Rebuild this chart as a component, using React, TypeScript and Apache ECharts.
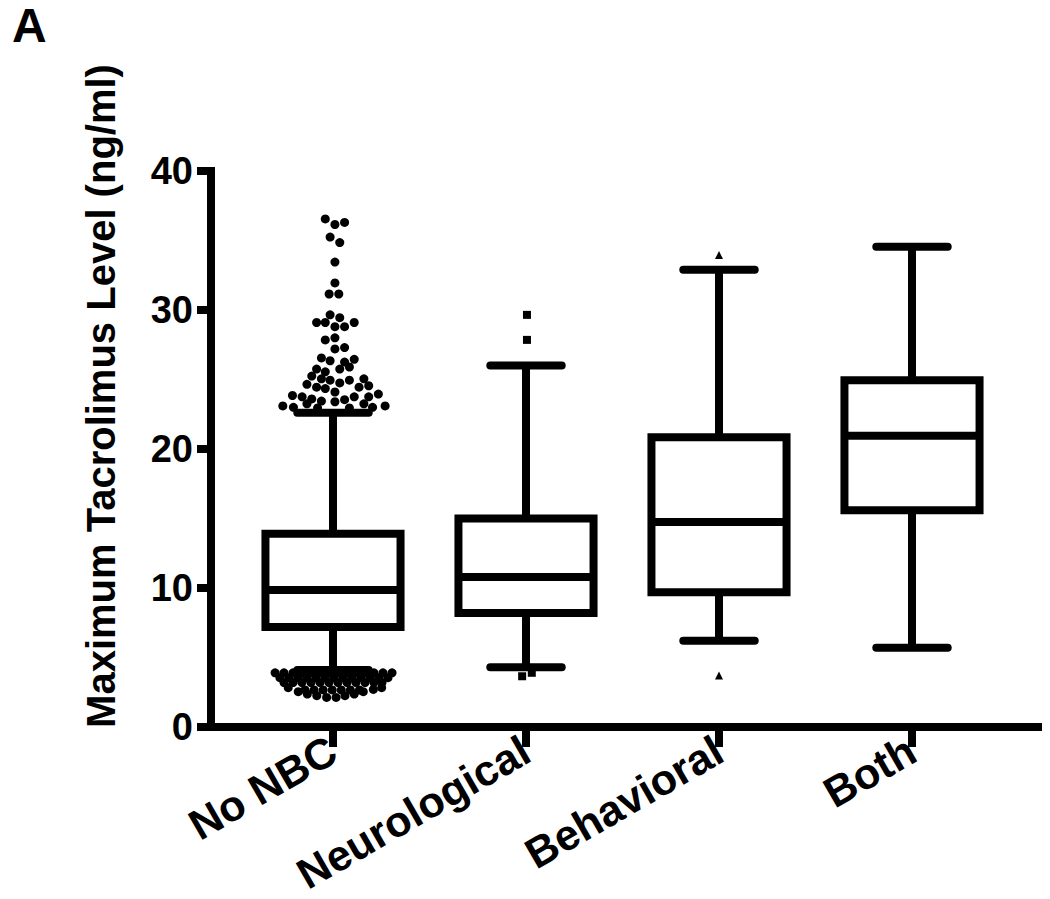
import React, { useEffect, useRef } from "react";
import * as echarts from "echarts";

const categories = ["No NBC", "Neurological", "Behavioral", "Both"];
const whiskerLow = [4.1, 4.3, 6.2, 5.7];
const q1 = [7.2, 8.2, 9.7, 15.6];
const median = [9.85, 10.8, 14.75, 20.95];
const q3 = [13.9, 15.0, 20.85, 24.95];
const whiskerHigh = [22.6, 26.0, 32.9, 34.55];
const yTickLabels = ["0", "10", "20", "30", "40"];

// outliers as [horizontal offset within category (category units), value]
const noNbcOutliersHigh = [
  [-0.04, 36.55], [0.06, 36.3], [0.01, 36.15], [-0.015, 35.25], [0.035, 34.85],
  [0.01, 33.45], [0.01, 31.95], [-0.02, 31.15], [0.03, 31.15],
  [-0.015, 29.65], [0.035, 29.45], [-0.085, 29.1], [-0.04, 29.1], [0.11, 29.1],
  [0.01, 28.8], [0.06, 28.8], [0.01, 28.0], [-0.04, 27.85], [0.06, 27.3], [0.01, 27.2],
  [-0.06, 26.55], [0.11, 26.45], [-0.015, 26.35], [0.06, 26.25],
  [0.085, 25.9], [-0.085, 25.75], [0.035, 25.75], [-0.04, 25.55],
  [-0.11, 25.25], [0.16, 25.05], [-0.06, 25.05], [-0.015, 24.95], [0.085, 24.95],
  [0.035, 24.75], [-0.135, 24.65], [0.185, 24.55], [-0.085, 24.45], [0.135, 24.45],
  [-0.04, 24.35], [0.01, 24.1], [0.235, 23.95], [-0.21, 23.85], [-0.16, 23.75],
  [0.11, 23.75], [0.185, 23.75], [-0.11, 23.6], [0.06, 23.55], [-0.06, 23.45],
  [0.01, 23.4], [-0.135, 23.25], [0.16, 23.25], [-0.26, 23.1], [0.27, 23.1],
  [-0.205, 23.0], [0.205, 23.0], [-0.08, 22.95], [0.085, 22.95],
];
const noNbcOutliersLow = [
  [-0.3, 3.9], [-0.254, 3.9], [-0.207, 3.9], [-0.161, 3.9], [-0.114, 3.9], [-0.067, 3.9], [-0.021, 3.9],
  [0.026, 3.9], [0.073, 3.9], [0.119, 3.9], [0.166, 3.9], [0.212, 3.9], [0.259, 3.9], [0.306, 3.9],
  [-0.275, 3.55], [-0.228, 3.55], [-0.181, 3.55], [-0.135, 3.55], [-0.088, 3.55], [-0.041, 3.55], [0.005, 3.55],
  [0.052, 3.55], [0.098, 3.55], [0.145, 3.55], [0.192, 3.55], [0.238, 3.55], [0.285, 3.55],
  [-0.254, 3.2], [-0.207, 3.2], [-0.161, 3.2], [-0.114, 3.2], [-0.067, 3.2], [-0.021, 3.2],
  [0.026, 3.2], [0.073, 3.2], [0.119, 3.2], [0.166, 3.2], [0.212, 3.2], [0.254, 3.2],
  [-0.145, 2.67], [-0.098, 2.67], [-0.051, 2.67], [-0.004, 2.67], [0.043, 2.67], [0.09, 2.67], [0.137, 2.67],
  [-0.232, 2.83], [-0.18, 2.54], [-0.133, 2.37], [-0.084, 2.25], [-0.033, 2.13], [0.016, 2.13],
  [0.062, 2.25], [0.11, 2.37], [0.157, 2.54], [0.209, 2.7], [0.252, 2.83],
];
const neuroOutliers = [[0.005, 29.65], [0.005, 27.85], [-0.02, 3.65], [0.03, 3.9]];
const behavioralOutliers = [[0.0, 33.95], [0.0, 3.7]];

const FONT = "'Liberation Sans', Arial, sans-serif";

export default function App() {
  const ref = useRef<HTMLDivElement>(null);
  useEffect(() => {
    document.body.style.margin = "0";
    if (!ref.current) return;
    const chart = echarts.init(ref.current, undefined, { renderer: "svg" });
    const boxData = categories.map((_, i) => [i, whiskerLow[i], q1[i], median[i], q3[i], whiskerHigh[i]]);
    const toPts = (arr: number[][], idx: number) => arr.map(([dx, v]) => [idx + dx, v]);
    const yMin = 0;
    const yMax = Number(yTickLabels[yTickLabels.length - 1]);
    const black = "#000";

    chart.setOption({
      animation: false,
      backgroundColor: "#fff",
      title: {
        text: "A",
        left: 7,
        top: -4,
        textStyle: { fontSize: 48, fontWeight: "bold", color: black, fontFamily: FONT },
      },
      grid: [
        { left: 236.5, right: 41.5, top: 171, bottom: 172, containLabel: false, outerBoundsMode: "none" },
        { left: 211, right: 12, top: 171, bottom: 172, containLabel: false, outerBoundsMode: "none" },
      ],
      xAxis: [
        {
          type: "category",
          gridIndex: 0,
          data: categories,
          axisLine: { show: false },
          axisTick: { show: true, alignWithLabel: true, length: 20, lineStyle: { width: 8, color: black } },
          axisLabel: {
            interval: 0,
            rotate: 30,
            margin: 20,
            fontSize: 43,
            fontWeight: "bold",
            color: black,
            fontFamily: FONT,
          },
          splitLine: { show: false },
        },
        { type: "value", gridIndex: 0, min: -0.5, max: 3.5, show: false },
        {
          type: "value",
          gridIndex: 1,
          min: 0,
          max: 1,
          axisLine: { show: true, lineStyle: { width: 8, color: black, cap: "square" } },
          axisTick: { show: false },
          axisLabel: { show: false },
          splitLine: { show: false },
        },
      ],
      yAxis: [
        { type: "value", gridIndex: 0, min: yMin, max: yMax, show: false },
        {
          type: "value",
          gridIndex: 1,
          min: yMin,
          max: yMax,
          interval: 10,
          axisLine: { show: true, lineStyle: { width: 8, color: black, cap: "square" } },
          axisTick: { show: true, length: 14, lineStyle: { width: 8, color: black } },
          axisLabel: {
            margin: 18,
            fontSize: 38,
            fontWeight: "bold",
            color: black,
            fontFamily: FONT,
            formatter: (v: number) => yTickLabels[Math.round(v / 10)] ?? String(v),
          },
          splitLine: { show: false },
        },
      ],
      graphic: [
        {
          type: "text",
          x: 101,
          y: 396,
          rotation: Math.PI / 2,
          style: {
            text: "Maximum Tacrolimus Level (ng/ml)",
            font: `bold 40px ${FONT}`,
            fill: black,
            align: "center",
            verticalAlign: "middle",
          },
        },
      ],
      series: [
        {
          type: "custom",
          xAxisIndex: 0,
          yAxisIndex: 0,
          data: boxData,
          encode: { x: 0, y: [1, 2, 3, 4, 5] },
          z: 2,
          renderItem: (params: any, api: any) => {
            const idx = api.value(0);
            const band = api.size([1, 0])[0];
            const boxHalf = band * 0.35;
            const capHalf = band * 0.185;
            const pLow = api.coord([idx, api.value(1)]);
            const pQ1 = api.coord([idx, api.value(2)]);
            const pMed = api.coord([idx, api.value(3)]);
            const pQ3 = api.coord([idx, api.value(4)]);
            const pHigh = api.coord([idx, api.value(5)]);
            const x = pLow[0];
            const st = { stroke: black, lineWidth: 8, fill: "none" };
            const cap = { stroke: black, lineWidth: 8, fill: "none", lineCap: "round" };
            return {
              type: "group",
              children: [
                { type: "line", shape: { x1: x, y1: pHigh[1], x2: x, y2: pQ3[1] }, style: st },
                { type: "line", shape: { x1: x, y1: pQ1[1], x2: x, y2: pLow[1] }, style: st },
                { type: "line", shape: { x1: x - capHalf, y1: pHigh[1], x2: x + capHalf, y2: pHigh[1] }, style: cap },
                { type: "line", shape: { x1: x - capHalf, y1: pLow[1], x2: x + capHalf, y2: pLow[1] }, style: cap },
                {
                  type: "rect",
                  shape: { x: x - boxHalf, y: pQ3[1], width: boxHalf * 2, height: pQ1[1] - pQ3[1] },
                  style: { fill: "#fff", stroke: black, lineWidth: 8, lineJoin: "miter" },
                },
                { type: "line", shape: { x1: x - boxHalf, y1: pMed[1], x2: x + boxHalf, y2: pMed[1] }, style: st },
              ],
            };
          },
        },
        {
          type: "scatter",
          xAxisIndex: 1,
          yAxisIndex: 0,
          z: 3,
          symbol: "circle",
          symbolSize: 9,
          itemStyle: { color: black, opacity: 1 },
          data: [...toPts(noNbcOutliersHigh, 0), ...toPts(noNbcOutliersLow, 0)],
        },
        {
          type: "scatter",
          xAxisIndex: 1,
          yAxisIndex: 0,
          z: 3,
          symbol: "rect",
          symbolSize: 8,
          itemStyle: { color: black, opacity: 1 },
          data: toPts(neuroOutliers, 1),
        },
        {
          type: "scatter",
          xAxisIndex: 1,
          yAxisIndex: 0,
          z: 3,
          symbol: "triangle",
          symbolSize: 8,
          itemStyle: { color: black, opacity: 1 },
          data: toPts(behavioralOutliers, 2),
        },
      ],
    });
    return () => chart.dispose();
  }, []);
  return <div ref={ref} style={{ width: 1050, height: 899 }} />;
}
